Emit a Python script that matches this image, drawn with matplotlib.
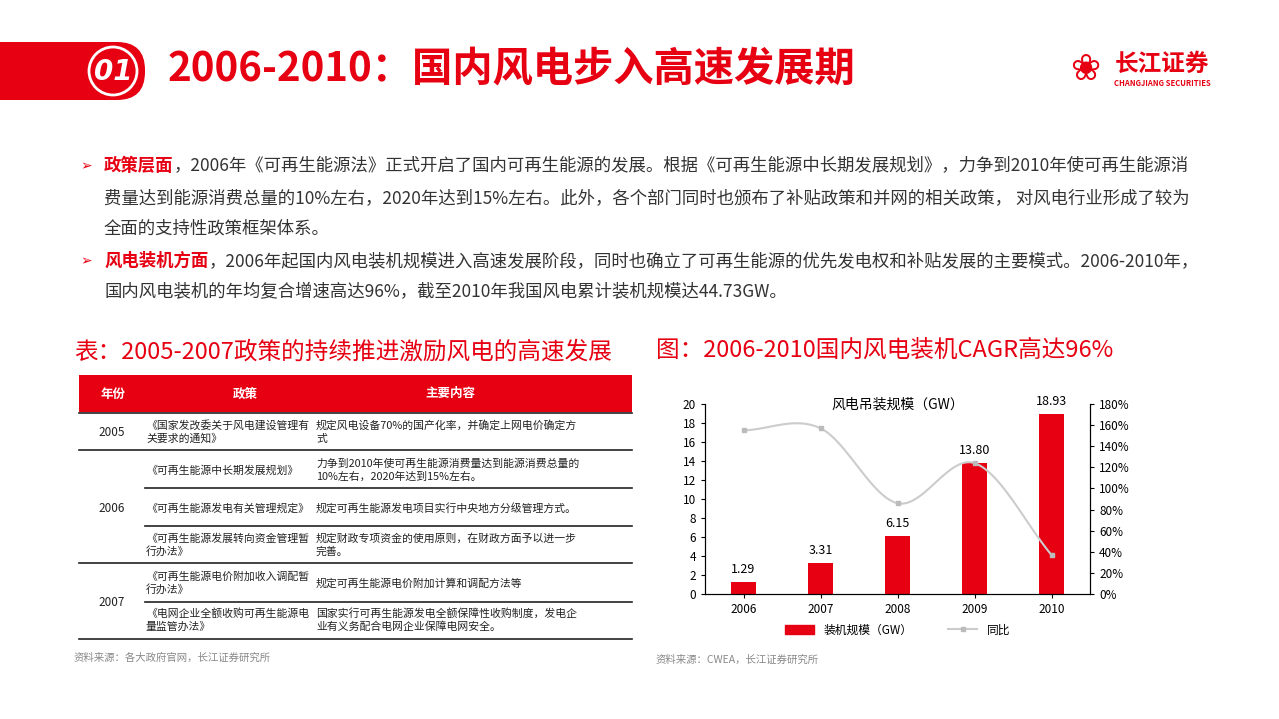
import numpy as np
import matplotlib.pyplot as plt
from matplotlib.patches import Rectangle, FancyBboxPatch, Circle
from matplotlib.lines import Line2D

plt.rcParams['font.family'] = ['Noto Sans CJK SC', 'DejaVu Sans']

RED = '#e60012'
years = ['2006', '2007', '2008', '2009', '2010']
capacity = [1.29, 3.31, 6.15, 13.80, 18.93]
growth = [155, 157, 86, 124, 37]

fig = plt.figure(figsize=(12.79, 7.19), dpi=100)
bg = fig.add_axes([0, 0, 1, 1])
bg.set_xlim(0, 1279)
bg.set_ylim(719, 0)
bg.axis('off')

# header
bg.add_patch(FancyBboxPatch((-40, 42), 185, 58, boxstyle='round,pad=0,rounding_size=28',
                            color=RED, lw=0))
bg.add_patch(Circle((113, 71), 24, fill=False, ec='white', lw=2))
bg.text(113, 72, '01', color='white', fontsize=20, fontweight='bold', style='italic',
        ha='center', va='center', family=['DejaVu Sans'])
bg.text(168, 70, '2006-2010：国内风电步入高速发展期', color=RED, fontsize=29,
        fontweight='bold', va='center')
bg.text(1085, 70, '❀', color=RED, fontsize=26, ha='center', va='center', family=['DejaVu Sans'])
bg.text(1162, 64, '长江证券', color=RED, fontsize=17, fontweight='bold', ha='center', va='center')
bg.text(1162, 84, 'CHANGJIANG SECURITIES', color=RED, fontsize=5.5, fontweight='bold',
        ha='center', va='center')

# body text
lines = [
    (166, '➢', '政策层面', '，2006年《可再生能源法》正式开启了国内可再生能源的发展。根据《可再生能源中长期发展规划》，力争到2010年使可再生能源消'),
    (198, None, None, '费量达到能源消费总量的10%左右，2020年达到15%左右。此外，各个部门同时也颁布了补贴政策和并网的相关政策， 对风电行业形成了较为'),
    (229, None, None, '全面的支持性政策框架体系。'),
    (261, '➢', '风电装机方面', '，2006年起国内风电装机规模进入高速发展阶段，同时也确立了可再生能源的优先发电权和补贴发展的主要模式。2006-2010年，'),
    (292, None, None, '国内风电装机的年均复合增速高达96%，截至2010年我国风电累计装机规模达44.73GW。'),
]
for y, b, head, rest in lines:
    x = 104
    if b:
        bg.text(80, y, b, color=RED, fontsize=10, va='center', family=['DejaVu Sans'])
        bg.text(x, y, head, color=RED, fontsize=12.5, fontweight='bold', va='center')
        x += len(head) * 17.4
    bg.text(x, y, rest, color='#333333', fontsize=12.5, va='center')

bg.text(74, 352, '表：2005-2007政策的持续推进激励风电的高速发展', color=RED, fontsize=17, va='center')
bg.text(656, 350, '图：2006-2010国内风电装机CAGR高达96%', color=RED, fontsize=17, va='center')

# table
bg.add_patch(Rectangle((79, 375), 553, 37, color=RED, lw=0))
for x, s in [(113, '年份'), (245, '政策'), (450, '主要内容')]:
    bg.text(x, 394, s, color='white', fontsize=9, fontweight='bold', ha='center', va='center')
for y, x0 in [(413, 79), (450, 79), (488, 145), (526, 145), (563, 79), (602, 145), (639, 79)]:
    bg.add_line(Line2D([x0, 632], [y, y], color='#222222', lw=1.2))
rows = [
    (432, '《国家发改委关于风电建设管理有\n关要求的通知》', '规定风电设备70%的国产化率，并确定上网电价确定方\n式'),
    (470, '《可再生能源中长期发展规划》', '力争到2010年使可再生能源消费量达到能源消费总量的\n10%左右，2020年达到15%左右。'),
    (508, '《可再生能源发电有关管理规定》', '规定可再生能源发电项目实行中央地方分级管理方式。'),
    (545, '《可再生能源发展转向资金管理暂\n行办法》', '规定财政专项资金的使用原则，在财政方面予以进一步\n完善。'),
    (583, '《可再生能源电价附加收入调配暂\n行办法》', '规定可再生能源电价附加计算和调配方法等'),
    (620, '《电网企业全额收购可再生能源电\n量监管办法》', '国家实行可再生能源发电全额保障性收购制度，发电企\n业有义务配合电网企业保障电网安全。'),
]
for y, p, c in rows:
    bg.text(146, y, p, fontsize=7.8, va='center', color='#222222', linespacing=1.3)
    bg.text(316, y, c, fontsize=7.8, va='center', color='#222222', linespacing=1.3)
for y, s in [(432, '2005'), (508, '2006'), (603, '2007')]:
    bg.text(112, y, s, fontsize=8.5, ha='center', va='center', color='#222222')
bg.text(74, 658, '资料来源：各大政府官网，长江证券研究所', fontsize=7.5, color='#888888', va='center')
bg.text(656, 660, '资料来源：CWEA，长江证券研究所', fontsize=7.5, color='#888888', va='center')

# chart
ax = fig.add_axes([705 / 1279, 125 / 719, 385 / 1279, 190 / 719])
x = np.arange(len(years))
ax.bar(x, capacity, width=0.33, color=RED, label='装机规模（GW）')
for xi, v in zip(x, capacity):
    ax.text(xi, v + 0.6, f'{v:.2f}', ha='center', va='bottom', fontsize=9)
ax.set_ylim(0, 20)
ax.set_yticks(range(0, 21, 2))
ax.set_xlim(-0.5, 4.5)
ax.set_xticks(x)
ax.set_xticklabels(years)
ax.tick_params(labelsize=8.5, length=3)
ax.spines['top'].set_visible(False)
ax.set_title('风电吊装规模（GW）', fontsize=10, y=0.93)

ax2 = ax.twinx()
# smooth curve through the points (Catmull-Rom)
px = np.array(x, float)
py = np.array(growth, float)
P = np.vstack([px, py]).T
P = np.vstack([2 * P[0] - P[1], P, 2 * P[-1] - P[-2]])
sx, sy = [], []
t = np.linspace(0, 1, 30)
for i in range(1, len(P) - 2):
    p0, p1, p2, p3 = P[i - 1], P[i], P[i + 1], P[i + 2]
    seg = 0.5 * ((2 * p1)[:, None] + (-p0 + p2)[:, None] * t + (2 * p0 - 5 * p1 + 4 * p2 - p3)[:, None] * t ** 2
                 + (-p0 + 3 * p1 - 3 * p2 + p3)[:, None] * t ** 3)
    sx.extend(seg[0]); sy.extend(seg[1])
ax2.plot(sx, sy, color='#cccccc', lw=1.5)
ax2.plot(px, py, 's', color='#bbbbbb', ms=3)
ax2.set_ylim(0, 180)
ax2.set_yticks(range(0, 181, 20))
ax2.set_yticklabels([f'{v}%' for v in range(0, 181, 20)])
ax2.tick_params(labelsize=8.5, length=3)
ax2.spines['top'].set_visible(False)

h = [Rectangle((0, 0), 1, 1, color=RED),
     Line2D([], [], color='#cccccc', lw=1.5, marker='s', ms=3, mfc='#bbbbbb', mec='#bbbbbb')]
ax.legend(h, ['装机规模（GW）', '同比'], loc='upper center', bbox_to_anchor=(0.5, -0.1),
          ncol=2, frameon=False, fontsize=8.5, handlelength=2.5, columnspacing=3)

fig.savefig('out.png', dpi=100)
